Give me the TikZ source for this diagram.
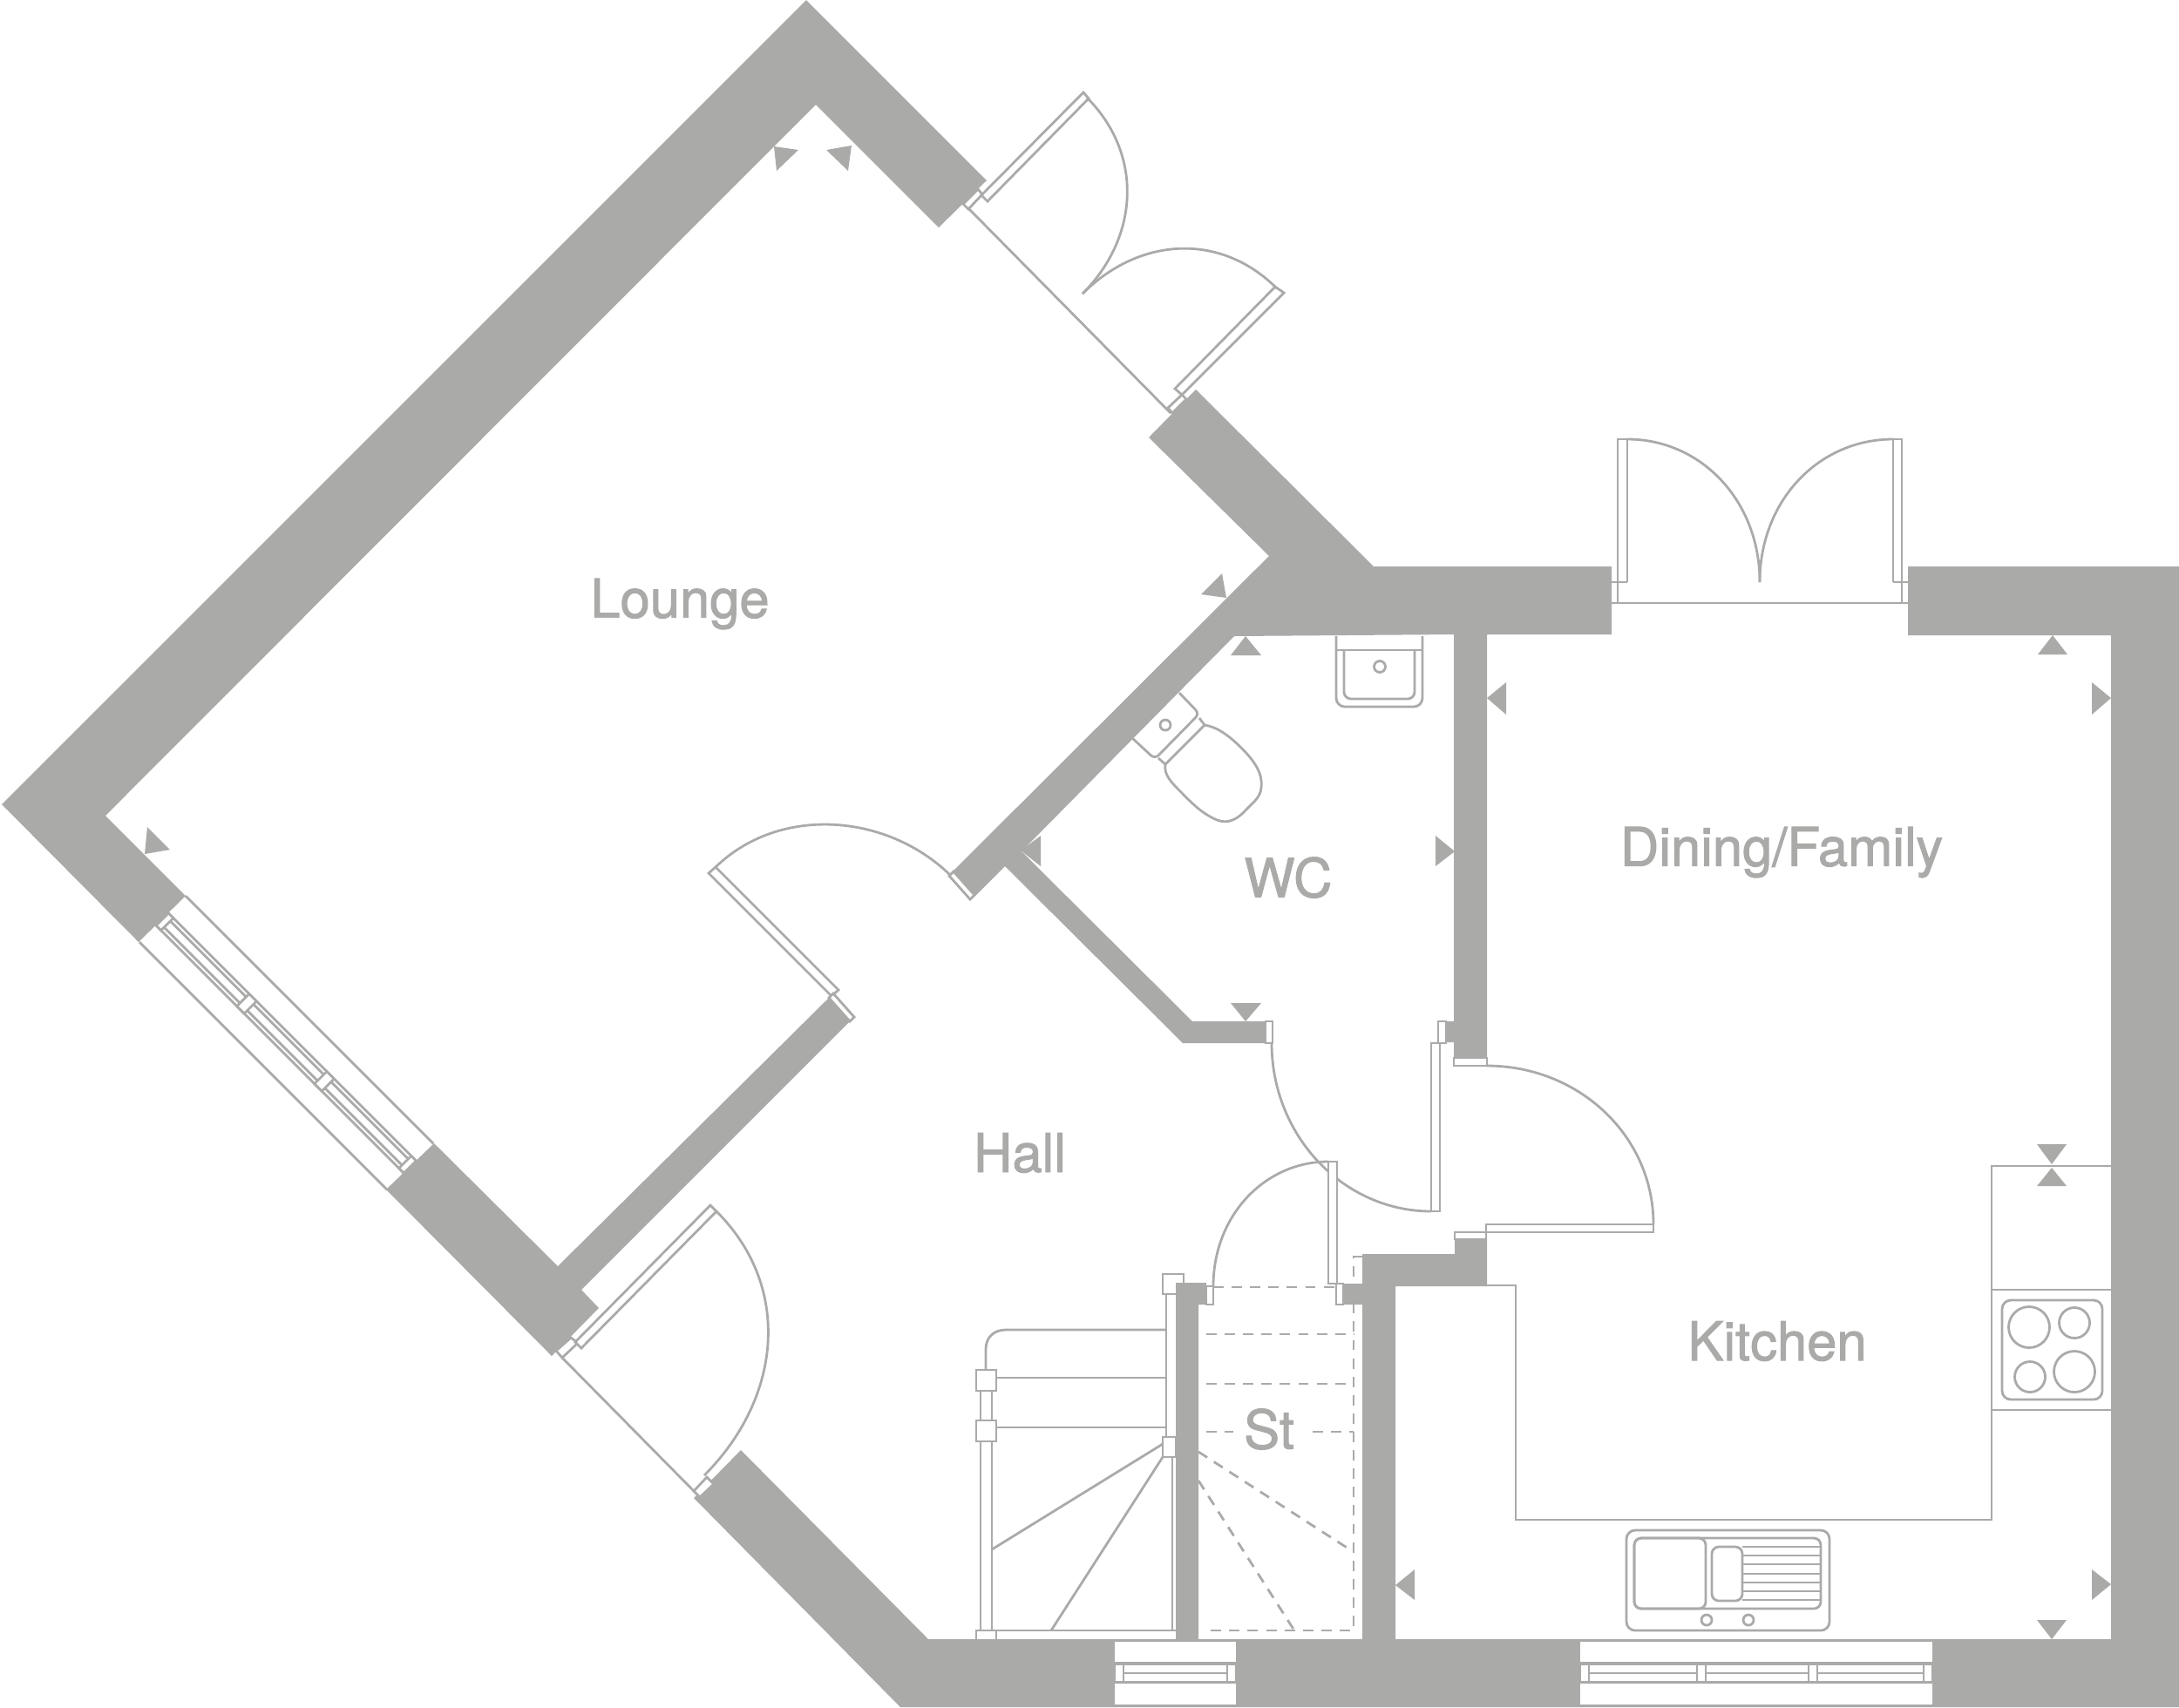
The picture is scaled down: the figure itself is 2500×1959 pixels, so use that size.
\documentclass[tikz,border=0pt]{standalone}
\usepackage{fontspec}
\newfontfamily\roomfont[FakeBold=1.6]{TeX Gyre Heros}
\definecolor{wallgrey}{HTML}{AAAAA9}
\tikzset{
    wall/.style={fill=wallgrey, draw=none},
    fitting/.style={draw=wallgrey, line width=0.028cm, line join=miter},
    frame/.style={fitting, fill=white},
    dashline/.style={draw=wallgrey, line width=0.028cm, dash pattern=on 3.4pt off 2.6pt},
    roomlabel/.style={text=wallgrey, font=\roomfont\fontsize{17.5pt}{20pt}\selectfont, inner sep=0pt}
}
\begin{document}
\begin{tikzpicture}[x=0.01cm, y=-0.01cm]
    \useasboundingbox (0,0) rectangle (2500,1959);

    % Stairs
    \draw [dashline] (1392,1477) -- (1533,1477);
    \draw [dashline] (1563,1442) -- (1553,1442) -- (1553,1871) -- (1385,1871);
    \draw [dashline] (1384,1531) -- (1553,1531);
    \draw [dashline] (1384,1588) -- (1553,1588);
    \draw [dashline] (1384,1643) -- (1415,1643);
    \draw [dashline] (1506,1643) -- (1553,1643);
    \draw [dashline] (1375,1666) -- (1550,1779);
    \draw [dashline] (1375,1699) -- (1485,1871);
    \draw [fitting] (1338,1485) -- (1338,1649);
    \draw [fitting] (1345,1672) -- (1345,1871);
    \draw [frame] (1334,1462) rectangle (1358,1485);
    \draw [frame] (1334,1649) rectangle (1349,1672);
    \draw [fitting] (1338,1526) -- (1154,1526) .. controls (1140,1526) and (1131,1535) .. (1131,1548) -- (1131,1572);
    \draw [fitting] (1143,1581) -- (1338,1581);
    \draw [fitting] (1143,1638) -- (1338,1638);
    \draw [fitting] (1125,1596) -- (1125,1630);
    \draw [fitting] (1138,1596) -- (1138,1630);
    \draw [fitting] (1125,1654) -- (1125,1871);
    \draw [fitting] (1138,1654) -- (1138,1871);
    \draw [frame] (1120,1572) rectangle (1143,1596);
    \draw [frame] (1120,1630) rectangle (1143,1654);
    \draw [fitting] (1120,1881) -- (1120,1871) -- (1349,1871);
    \draw [fitting] (1143,1871) -- (1143,1881);
    \draw [fitting] (1334,1657) -- (1138,1778);
    \draw [fitting] (1334,1672) -- (1206,1871);

    % Walls
    \fill [wall] (121,936) -- (936,120) -- (1077,261) -- (1132,207) -- (925,0) -- (2,923) -- (159,1081) -- (213,1028) -- cycle;
    \fill [wall] (498,1312) -- (640,1453) -- (951,1145) -- (975,1172) -- (667,1480) -- (687,1501) -- (633,1556) -- (443,1365) -- cycle;
    \fill [wall] (1318,502) -- (1372,447) -- (1576,650) -- (1849,650) -- (1849,728) -- (1706,728) -- (1706,1214) -- (1668,1214) -- (1668,1196) -- (1659,1196) -- (1659,1172) -- (1668,1172) -- (1668,728) -- (1416,730) -- (1172,977) -- (1368,1172) -- (1452,1172) -- (1452,1197) -- (1357,1197) -- (1153,994) -- (1119,1028) -- (1092,1001) -- (1456,638) -- cycle;
    \fill [wall] (796,1719) -- (850,1664) -- (1065,1881) -- (2422,1881) -- (2422,729) -- (2189,729) -- (2189,650) -- (2500,650) -- (2500,1959) -- (1033,1959) -- cycle;
    \fill [wall] (1349,1472) -- (1384,1472) -- (1384,1497) -- (1375,1497) -- (1375,1881) -- (1349,1881) -- cycle;
    \fill [wall] (1541,1473) -- (1563,1473) -- (1563,1439) -- (1669,1439) -- (1669,1422) -- (1706,1422) -- (1706,1476) -- (1601,1476) -- (1601,1881) -- (1563,1881) -- (1563,1497) -- (1541,1497) -- cycle;

    % Wall marks
    \fill [wall] (888,168) -- (916,172) -- (891,196) -- cycle;
    \fill [wall] (977,167) -- (948,172) -- (973,196) -- cycle;
    \fill [wall] (1407,686) -- (1402,658) -- (1378,682) -- cycle;
    \fill [wall] (166,980) -- (195,975) -- (169,949) -- cycle;
    \fill [wall] (1171,976) -- (1194,959) -- (1194,994) -- cycle;
    \fill [wall] (1429,730) -- (1412,752) -- (1447,752) -- cycle;
    \fill [wall] (1429,1172) -- (1412,1151) -- (1447,1151) -- cycle;
    \fill [wall] (1669,977) -- (1647,959) -- (1647,994) -- cycle;
    \fill [wall] (1706,801) -- (1728,783) -- (1728,820) -- cycle;
    \fill [wall] (2355,729) -- (2338,751) -- (2372,751) -- cycle;
    \fill [wall] (2422,801) -- (2400,783) -- (2400,820) -- cycle;
    \fill [wall] (2354,1336) -- (2337,1313) -- (2371,1313) -- cycle;
    \fill [wall] (2354,1340) -- (2337,1361) -- (2371,1361) -- cycle;
    \fill [wall] (2422,1818) -- (2400,1801) -- (2400,1836) -- cycle;
    \fill [wall] (2354,1881) -- (2337,1859) -- (2371,1859) -- cycle;
    \fill [wall] (1601,1819) -- (1623,1801) -- (1623,1836) -- cycle;

    % Lounge window
    \begin{scope}[shift={(213,1028)}, rotate=-45]
        \draw [fitting] (0,0) -- (402,0);
        \draw [fitting] (0,75) -- (402,75);
        \draw [fitting] (0,28) -- (402,28);
        \draw [fitting] (0,48) -- (402,48);
        \draw [fitting] (8,33) -- (131,33) (143,33) -- (257,33) (269,33) -- (394,33);
        \draw [fitting] (8,43) -- (131,43) (143,43) -- (257,43) (269,43) -- (394,43);
        \draw [frame] (0,28) rectangle (8,48);
        \draw [frame] (131,28) rectangle (143,48);
        \draw [frame] (257,28) rectangle (269,48);
        \draw [frame] (394,28) rectangle (402,48);
    \end{scope}

    % Garden doors
    \draw [fitting] (1112,240) -- (1343,474);
    \draw [frame] (1105,234) -- (1122,217) -- (1127,223) -- (1111,240) -- cycle;
    \draw [frame] (1340,468) -- (1356,453) -- (1361,458) -- (1345,474) -- cycle;
    \draw [frame] (1243,106) -- (1249,113) -- (1133,231) -- (1126,224) -- cycle;
    \draw [frame] (1463,329) -- (1473,336) -- (1356,453) -- (1348,446) -- cycle;
    \draw [fitting] (1247,112) .. controls (1312,177) and (1307,272) .. (1242,337);
    \draw [fitting] (1242,337) .. controls (1307,272) and (1400,266) .. (1465,331);

    % Dining doors
    \draw [fitting] (1849,692) -- (2189,692);
    \draw [fitting] (1849,668) -- (1867,668) (2172,668) -- (2189,668);
    \draw [fitting] (1856,692) -- (1856,504) -- (1867,504) -- (1867,668);
    \draw [fitting] (2182,692) -- (2182,504) -- (2172,504) -- (2172,668);
    \draw [fitting] (1867,504) .. controls (1952,504) and (2019,575) .. (2019,668);
    \draw [fitting] (2172,504) .. controls (2086,504) and (2019,575) .. (2019,668);

    % Entrance door
    \draw [fitting] (645,1558) -- (796,1711);
    \draw [frame] (638,1550) -- (655,1535) -- (663,1541) -- (645,1558) -- cycle;
    \draw [frame] (796,1711) -- (803,1718) -- (819,1703) -- (811,1695) -- cycle;
    \draw [frame] (815,1383) -- (822,1390) -- (667,1547) -- (660,1540) -- cycle;
    \draw [fitting] (822,1390) .. controls (910,1478) and (896,1605) .. (808,1693);

    % Lounge door
    \draw [frame] (813,1002) -- (821,995) -- (962,1136) -- (954,1143) -- cycle;
    \draw [frame] (951,1145) -- (975,1172) -- (980,1167) -- (956,1140) -- cycle;
    \draw [frame] (1089,1005) -- (1113,1032) -- (1118,1027) -- (1094,1000) -- cycle;
    \draw [fitting] (821,995) .. controls (894,924) and (1017,933) .. (1090,1004);

    % WC door
    \draw [frame] (1452,1172) rectangle (1460,1197);
    \draw [frame] (1650,1172) rectangle (1659,1197);
    \draw [frame] (1642,1197) rectangle (1652,1390);
    \draw [fitting] (1459,1197) .. controls (1459,1303) and (1541,1390) .. (1642,1390);

    % Stair cupboard door
    \draw [frame] (1384,1476) rectangle (1392,1497);
    \draw [frame] (1533,1473) rectangle (1541,1497);
    \draw [frame] (1524,1333) rectangle (1534,1473);
    \draw [fitting] (1524,1333) .. controls (1451,1333) and (1392,1395) .. (1392,1476);

    % Kitchen door
    \draw [frame] (1668,1214) rectangle (1706,1223);
    \draw [frame] (1669,1414) rectangle (1705,1422);
    \draw [frame] (1705,1405) rectangle (1897,1414);
    \draw [fitting] (1706,1223) .. controls (1811,1223) and (1897,1303) .. (1897,1405);

    % Ground floor windows
    \fill [white] (1279,1884) rectangle (1418,1907);
    \fill [white] (1279,1932) rectangle (1418,1956);
    \draw [frame] (1279,1910) rectangle (1418,1930);
    \draw [fitting] (1289,1920) -- (1408,1920);
    \draw [frame] (1279,1910) rectangle (1289,1930);
    \draw [frame] (1408,1910) rectangle (1418,1930);
    \fill [white] (1813,1884) rectangle (2217,1907);
    \fill [white] (1813,1932) rectangle (2217,1956);
    \draw [frame] (1813,1910) rectangle (2217,1930);
    \draw [fitting] (1823,1920) -- (2207,1920);
    \draw [frame] (1813,1910) rectangle (1823,1930);
    \draw [frame] (1947,1910) rectangle (1957,1930);
    \draw [frame] (2075,1910) rectangle (2085,1930);
    \draw [frame] (2207,1910) rectangle (2217,1930);

    % WC fittings
    \draw [fitting, rounded corners=0.1cm] (1533,730) -- (1533,811) -- (1632,811) -- (1632,730);
    \draw [fitting] (1533,746) -- (1632,746);
    \draw [fitting, rounded corners=0.08cm] (1542,746) -- (1542,802) -- (1623,802) -- (1623,746);
    \draw [fitting] (1583,765) circle (6.5);
    \draw [fitting, rounded corners=0.06cm] (1353,795) -- (1376,819) -- (1325,871) -- (1298,846);
    \draw [fitting] (1337,832) circle (6);
    \draw [fitting] (1376,824) -- (1382,832);
    \draw [fitting] (1329,870) -- (1337,877);
    \draw [fitting] (1337,877) -- (1382,832) .. controls (1396,834) and (1410,844) .. (1424,858) .. controls (1440,874) and (1449,888) .. (1447,904) .. controls (1446,916) and (1436,922) .. (1427,932) .. controls (1416,943) and (1405,946) .. (1392,939) .. controls (1376,931) and (1366,920) .. (1355,909) .. controls (1344,898) and (1335,889) .. (1337,877) -- cycle;

    % Kitchen units
    \draw [fitting] (1706,1475) -- (1739,1475) -- (1739,1744) -- (2285,1744) -- (2285,1338) -- (2422,1338);
    \draw [fitting] (2285,1480) -- (2422,1480);
    \draw [fitting] (2285,1618) -- (2422,1618);
    \draw [fitting, rounded corners=0.1cm] (2297,1492) rectangle (2412,1606);
    \draw [fitting] (2328,1523) circle (23.5);
    \draw [fitting] (2380,1518) circle (17.5);
    \draw [fitting] (2329,1580) circle (17.5);
    \draw [fitting] (2380,1574) circle (23.5);

    % Sink
    \draw [fitting, rounded corners=0.1cm] (1866,1756) rectangle (2099,1871);
    \draw [fitting, rounded corners=0.08cm] (1875,1765) rectangle (2089,1846);
    \draw [fitting, rounded corners=0.08cm] (1875,1765) rectangle (1957,1846);
    \draw [fitting] (1999,1775) -- (2088,1775) (1999,1785) -- (2088,1785) (1999,1795) -- (2088,1795) (1999,1806) -- (2088,1806) (1999,1816) -- (2088,1816) (1999,1826) -- (2088,1826) (1999,1836) -- (2088,1836);
    \draw [fitting, rounded corners=0.08cm] (1964,1775) rectangle (1999,1837);
    \draw [fitting] (1958,1859) circle (6);
    \draw [fitting] (2006,1859) circle (6);

    % Room names
    \node [roomlabel] (lounge) at (780,693) {Lounge};
    \node [roomlabel] (dining) at (2044,978) {Dining/Family};
    \node [roomlabel] (wc) at (1478,1007) {WC};
    \node [roomlabel] (hall) at (1170,1323) {Hall};
    \node [roomlabel] (kitchen) at (2039,1539) {Kitchen};
    \node [roomlabel] (stairs) at (1456,1640) {St};
\end{tikzpicture}
\end{document}
